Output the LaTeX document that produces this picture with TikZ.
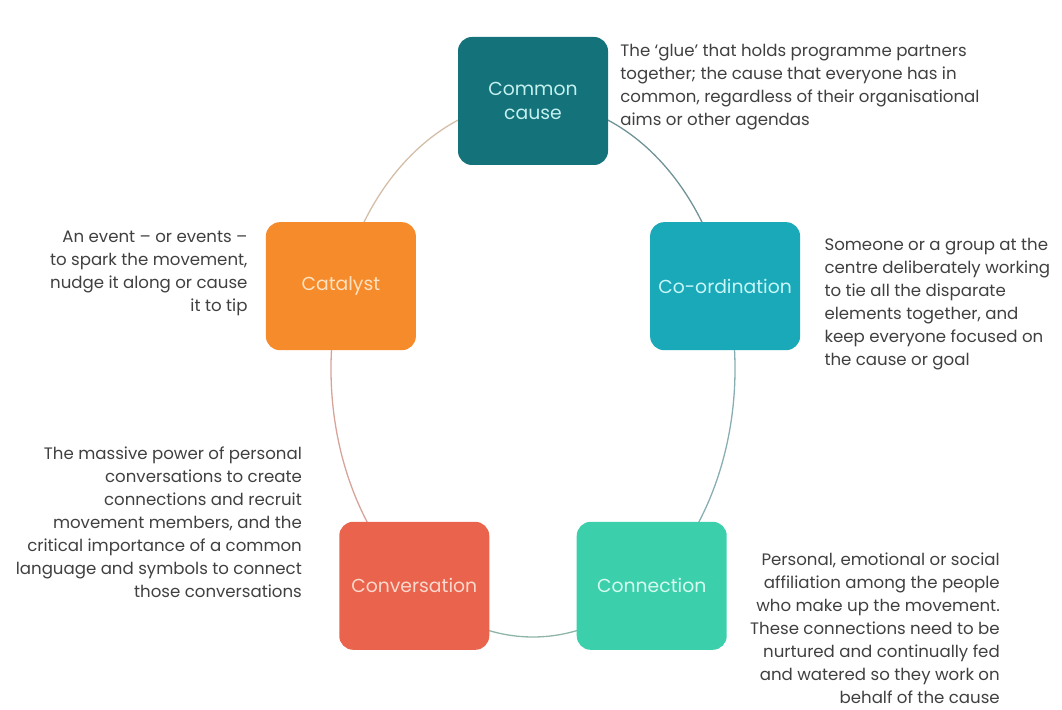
\documentclass[tikz,border=0pt]{standalone}
\usepackage{fontspec}
\setsansfont{Poppins}
\usetikzlibrary{positioning}
\definecolor{clrcause}{HTML}{13727A}
\definecolor{clrcoord}{HTML}{19A9B8}
\definecolor{clrconnect}{HTML}{3CCFAB}
\definecolor{clrconvo}{HTML}{E9634D}
\definecolor{clrcatalyst}{HTML}{F68B2B}
\definecolor{clrcause_text}{HTML}{C4F0EE}
\definecolor{clrcoord_text}{HTML}{C8F6F8}
\definecolor{clrconnect_text}{HTML}{D6FBEF}
\definecolor{clrconvo_text}{HTML}{FAD8CC}
\definecolor{clrcatalyst_text}{HTML}{FDE1C0}
\definecolor{clrlink_1}{HTML}{6F9396}
\definecolor{clrlink_2}{HTML}{88AEB4}
\definecolor{clrlink_3}{HTML}{8FB5AA}
\definecolor{clrlink_4}{HTML}{D7A39B}
\definecolor{clrlink_5}{HTML}{D4BEA8}
\definecolor{clrtext}{HTML}{404040}

\begin{document}
\begin{tikzpicture}[
    x=1pt, y=1pt,
    every node/.style={font=\sffamily},
    block/.style={rounded corners=14pt, minimum width=150pt, minimum height=128pt,
                  inner sep=2pt, align=center, font=\sffamily\fontsize{18.8}{24}\selectfont},
    link/.style={line width=1.3pt},
    desc/.style={font=\sffamily\fontsize{16.6}{23}\selectfont, text=clrtext, inner sep=0pt},
]
\useasboundingbox (-533,-340) rectangle (529,369);
% ring behind the boxes
\draw[link, color=clrlink_1] (90:202 and 268) arc[start angle=90, end angle=18, x radius=202, y radius=268];
\draw[link, color=clrlink_2] (18:202 and 268) arc[start angle=18, end angle=-54, x radius=202, y radius=268];
\draw[link, color=clrlink_3] (-54:202 and 268) arc[start angle=-54, end angle=-126, x radius=202, y radius=268];
\draw[link, color=clrlink_4] (-126:202 and 268) arc[start angle=-126, end angle=-198, x radius=202, y radius=268];
\draw[link, color=clrlink_5] (162:202 and 268) arc[start angle=162, end angle=90, x radius=202, y radius=268];
% boxes
\node[block, fill=clrcause, text=clrcause_text] (n_1) at (90:202 and 268) {Common\\cause};
\node[block, fill=clrcoord, text=clrcoord_text] (n_2) at (18:202 and 268) {Co-ordination};
\node[block, fill=clrconnect, text=clrconnect_text] (n_3) at (-54:202 and 268) {Connection};
\node[block, fill=clrconvo, text=clrconvo_text] (n_4) at (-126:202 and 268) {Conversation};
\node[block, fill=clrcatalyst, text=clrcatalyst_text] (n_5) at (162:202 and 268) {Catalyst};
% descriptions
\node[desc, anchor=north west, align=left] (d_1) at ([xshift=12pt, yshift=-7pt]n_1.north east)
    {The ‘glue’ that holds programme partners\\together; the cause that everyone has in\\common, regardless of their organisational\\aims or other agendas};
\node[desc, anchor=north west, align=left] (d_2) at ([xshift=24pt, yshift=-16pt]n_2.north east)
    {Someone or a group at the\\centre deliberately working\\to tie all the disparate\\elements together, and\\keep everyone focused on\\the cause or goal};
\node[desc, anchor=north east, align=right] (d_3) at ([xshift=273pt, yshift=-31pt]n_3.north east)
    {Personal, emotional or social\\affiliation among the people\\who make up the movement.\\These connections need to be\\nurtured and continually fed\\and watered so they work on\\behalf of the cause};
\node[desc, anchor=north east, align=right] (d_4) at ([xshift=-37pt, yshift=75pt]n_4.north west)
    {The massive power of personal\\conversations to create\\connections and recruit\\movement members, and the\\critical importance of a common\\language and symbols to connect\\those conversations};
\node[desc, anchor=north east, align=right] (d_5) at ([xshift=-18pt, yshift=-9pt]n_5.north west)
    {An event -- or events --\\to spark the movement,\\nudge it along or cause\\it to tip};
\end{tikzpicture}
\end{document}
